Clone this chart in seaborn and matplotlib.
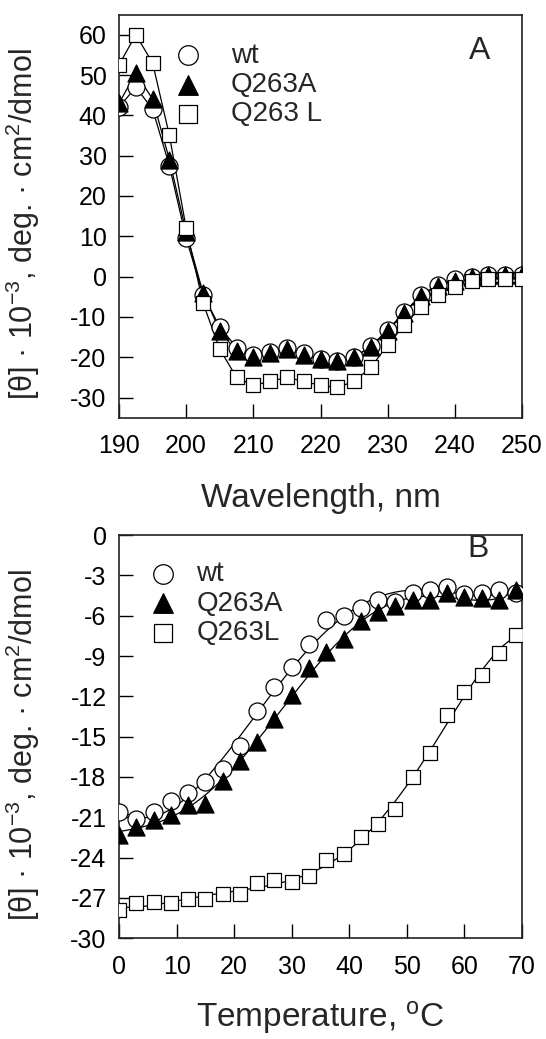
import numpy as np
import matplotlib
matplotlib.use("Agg")
import matplotlib.pyplot as plt
import seaborn as sns

# --- panel A: far-UV CD spectra ---
wavelength = np.arange(190, 250.1, 2.5)
cd_wt = [42, 47, 41.5, 27.5, 9.5, -4.5, -12.5, -17.6, -19.5, -18.7, -17.7, -19.0, -20.5,
         -21.0, -20.0, -17.3, -13.2, -8.8, -4.5, -2.0, -0.5, 0.0, 0.3, 0.3, 0.5]
cd_q263a = [43, 50.5, 44, 29, 11, -4, -13.5, -18.5, -20, -19, -18, -19.5, -20.5,
            -21, -20, -17.5, -13.5, -9, -4.8, -2.3, -1.0, 0.0, 0.3, 0.3, 0.5]
cd_q263l = [52.5, 60, 53, 35, 12, -6.5, -18, -25, -27, -26, -25, -26, -27,
            -27.5, -26, -22.5, -17, -12, -7.5, -4.5, -2.5, -1.2, -0.5, -0.5, -0.5]

# --- panel B: thermal unfolding at 222 nm ---
temperature = np.arange(0, 69.1, 3)
melt_wt = [-20.6, -21.1, -20.6, -19.8, -19.2, -18.4, -17.4, -15.7, -13.1, -11.3, -9.8, -8.1,
           -6.3, -6.0, -5.4, -4.8, -5.0, -4.3, -4.1, -3.9, -4.4, -4.3, -4.1, -4.3]
melt_q263a = [-22.3, -21.7, -21.2, -20.8, -20.1, -20.0, -18.3, -16.8, -15.4, -13.7, -11.9, -9.9,
              -8.7, -7.7, -6.4, -5.7, -5.3, -4.8, -4.8, -4.3, -4.6, -4.7, -4.8, -4.1]
melt_q263l = [-27.9, -27.4, -27.3, -27.4, -27.1, -27.1, -26.7, -26.7, -25.9, -25.7, -25.8, -25.4,
              -24.2, -23.7, -22.5, -21.5, -20.4, -18.0, -16.2, -13.4, -11.7, -10.4, -8.8, -7.4]

sns.set_style("ticks")
plt.rcParams['font.family'] = ['Liberation Sans', 'DejaVu Sans']
plt.rcParams['mathtext.fontset'] = 'custom'
plt.rcParams['mathtext.rm'] = 'Liberation Sans'
plt.rcParams['mathtext.it'] = 'Liberation Sans'
plt.rcParams['axes.unicode_minus'] = False

ylab = "[θ] · 10$^{-3}$, deg. · cm$^{2}$/dmol"
styles = [
    ("wt", "o", "white", 150),
    ("Q263A", "^", "black", 150),
    ("Q263L", "s", "white", 115),
]

fig = plt.figure(figsize=(5.46, 10.39), dpi=100)
axA = fig.add_axes([0.218, 0.598, 0.738, 0.388])
axB = fig.add_axes([0.218, 0.097, 0.738, 0.388])

# panel A
for (lab, m, fc, s), y, name in zip(styles, [cd_wt, cd_q263a, cd_q263l], ["wt", "Q263A", "Q263 L"]):
    sns.lineplot(x=wavelength, y=y, ax=axA, color="black", lw=0.9, zorder=2)
    sns.scatterplot(x=wavelength, y=y, ax=axA, marker=m, s=s, facecolor=fc,
                    edgecolor="black", linewidth=0.9, zorder=3, label=name)

axA.set_xlim(190, 250)
axA.set_ylim(-35, 65)
axA.set_xticks(range(190, 251, 10))
axA.set_yticks(range(-30, 61, 10))
axA.set_xlabel("Wavelength, nm", fontsize=24)
axA.text(0.895, 0.91, "A", transform=axA.transAxes, fontsize=23, ha="center", va="center")
axA.legend(loc="upper left", bbox_to_anchor=(0.14, 0.93), frameon=False, fontsize=20,
           handlelength=0.9, handletextpad=1.1, labelspacing=0.12, borderpad=0, borderaxespad=0,
           markerscale=1.15)

# panel B
for (lab, m, fc, s), y in zip(styles, [melt_wt, melt_q263a, melt_q263l]):
    sns.regplot(x=temperature, y=y, ax=axB, order=5, ci=None, scatter=False, truncate=True,
                line_kws=dict(color="black", lw=0.9, zorder=2))
    sns.scatterplot(x=temperature, y=y, ax=axB, marker=m, s=s, facecolor=fc,
                    edgecolor="black", linewidth=0.9, zorder=3, label=lab)

axB.set_xlim(0, 70)
axB.set_ylim(-30, 0)
axB.set_xticks(range(0, 71, 10))
axB.set_yticks(range(-30, 1, 3))
axB.set_xlabel("Temperature, $^{\\mathrm{o}}$C", fontsize=24)
axB.text(0.89, 0.965, "B", transform=axB.transAxes, fontsize=23, ha="center", va="center")
axB.legend(loc="upper left", bbox_to_anchor=(0.078, 0.935), frameon=False, fontsize=20,
           handlelength=0.9, handletextpad=0.75, labelspacing=0.12, borderpad=0, borderaxespad=0,
           markerscale=1.15)

for ax in (axA, axB):
    ax.set_ylabel(ylab, fontsize=22)
    ax.yaxis.set_label_coords(-0.19, 0.48)
    ax.tick_params(direction="in", length=10, width=1, labelsize=18, pad=9, colors="black")
    ax.tick_params(axis="x", pad=12)
    for sp in ax.spines.values():
        sp.set_linewidth(1.2)
        sp.set_color("#222222")
axA.xaxis.set_label_coords(0.5, -0.163)
axB.xaxis.set_label_coords(0.5, -0.152)

fig.savefig("out.png", dpi=100, facecolor="white")
